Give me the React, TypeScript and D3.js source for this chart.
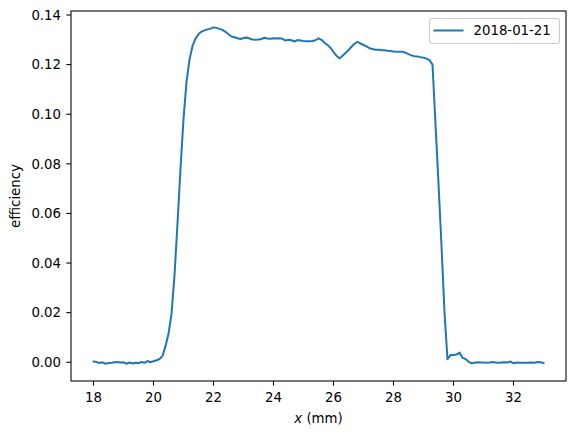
import React from "react";
import * as d3 from "d3";

const xValues = [
  18.0, 18.1, 18.2, 18.3, 18.4, 18.5, 18.6, 18.7, 18.8, 18.9,
  19.0, 19.1, 19.2, 19.3, 19.4, 19.5, 19.6, 19.7, 19.8, 19.9,
  20.0, 20.1, 20.2, 20.3, 20.4, 20.5, 20.6, 20.7, 20.8, 20.9,
  21.0, 21.1, 21.2, 21.3, 21.4, 21.5, 21.6, 21.7, 21.8, 21.9,
  22.0, 22.1, 22.2, 22.3, 22.4, 22.5, 22.6, 22.7, 22.8, 22.9,
  23.0, 23.1, 23.2, 23.3, 23.4, 23.5, 23.6, 23.7, 23.8, 23.9,
  24.0, 24.1, 24.2, 24.3, 24.4, 24.5, 24.6, 24.7, 24.8, 24.9,
  25.0, 25.1, 25.2, 25.3, 25.4, 25.5, 25.6, 25.7, 25.8, 25.9,
  26.0, 26.1, 26.2, 26.3, 26.4, 26.5, 26.6, 26.7, 26.8, 26.9,
  27.0, 27.1, 27.2, 27.3, 27.4, 27.5, 27.6, 27.7, 27.8, 27.9,
  28.0, 28.1, 28.2, 28.3, 28.4, 28.5, 28.6, 28.7, 28.8, 28.9,
  29.0, 29.1, 29.2, 29.3, 29.4, 29.5, 29.6, 29.7, 29.8, 29.9,
  30.0, 30.1, 30.2, 30.3, 30.4, 30.5, 30.6, 30.7, 30.8, 30.9,
  31.0, 31.1, 31.2, 31.3, 31.4, 31.5, 31.6, 31.7, 31.8, 31.9,
  32.0, 32.1, 32.2, 32.3, 32.4, 32.5, 32.6, 32.7, 32.8, 32.9,
  33.0,
];

const efficiency = [
  0.0003, 0.0001, -0.0003, 0.0, -0.0006, -0.0003, -0.0002, 0.0, 0.0001, -0.0001,
  0.0, -0.0006, -0.0001, -0.0005, -0.0002, -0.0003, 0.0001, -0.0002, 0.0005, 0.0,
  0.0004, 0.0008, 0.0013, 0.0025, 0.0065, 0.0115, 0.0195, 0.035, 0.056, 0.078,
  0.098, 0.113, 0.122, 0.1275, 0.1305, 0.1322, 0.1333, 0.1338, 0.1342, 0.1345,
  0.135, 0.1348, 0.1344, 0.134, 0.1332, 0.1322, 0.1313, 0.131, 0.1306, 0.1303,
  0.1307, 0.1309, 0.1305, 0.1301, 0.13, 0.1301, 0.1303, 0.1308, 0.1305, 0.1304,
  0.1306, 0.1305, 0.1306, 0.1304, 0.1297, 0.13, 0.1298, 0.1293, 0.1299, 0.1297,
  0.1295, 0.1294, 0.1294, 0.1295, 0.1298, 0.1306, 0.13, 0.1288, 0.1279, 0.1268,
  0.125, 0.1236, 0.1225, 0.1236, 0.1247, 0.1259, 0.1272, 0.1284, 0.1292, 0.1285,
  0.1279, 0.1273, 0.1266, 0.1263, 0.126, 0.126, 0.1258, 0.1258, 0.1256, 0.1255,
  0.1253, 0.1252, 0.1252, 0.1252, 0.1248, 0.1242, 0.1237, 0.1234, 0.1233, 0.123,
  0.1228, 0.1224, 0.1218, 0.12, 0.096, 0.072, 0.047, 0.02, 0.0012, 0.0029,
  0.0029, 0.0031, 0.0039, 0.0018, 0.0013, 0.0003, -0.0004, -0.0002, 0.0, -0.0001,
  -0.0001, -0.0002, -0.0001, 0.0001, -0.0001, -0.0002, -0.0001, 0.0, -0.0001, 0.0003,
  -0.0004, -0.0001, -0.0002, -0.0002, -0.0002, -0.0002, -0.0001, -0.0002, 0.0001, 0.0,
  -0.0003,
];

const xTicks = [18, 20, 22, 24, 26, 28, 30, 32];
const yTicks = [0.0, 0.02, 0.04, 0.06, 0.08, 0.1, 0.12, 0.14];
const seriesLabel = "2018-01-21";

export default function App() {
  const W = 576;
  const H = 436;
  const left = 71;
  const right = 566;
  const top = 11;
  const bottom = 381;
  const color = "#1f77b4";
  const font = "'DejaVu Sans', sans-serif";
  const fs = 13.3;

  const x = d3.scaleLinear().domain([17.25, 33.75]).range([left, right]);
  const y = d3.scaleLinear().domain([-0.00755, 0.1416]).range([bottom, top]);

  const pts: [number, number][] = xValues.map((v, i) => [v, efficiency[i]]);
  const line = d3
    .line<[number, number]>()
    .x((d) => x(d[0]))
    .y((d) => y(d[1]));

  const fmtY = d3.format(".2f");

  return (
    <svg width={W} height={H} style={{ display: "block", position: "absolute", left: 0, top: 0 }} fontFamily={font}>
      <rect x={0} y={0} width={W} height={H} fill="#ffffff" />
      <path d={line(pts) || ""} fill="none" stroke={color} strokeWidth={2} strokeLinejoin="round" strokeLinecap="square" />
      <rect x={left} y={top} width={right - left} height={bottom - top} fill="none" stroke="#000" strokeWidth={1.07} />
      {xTicks.map((t) => (
        <g key={"x" + t}>
          <line x1={x(t)} x2={x(t)} y1={bottom} y2={bottom + 4.67} stroke="#000" strokeWidth={1.07} />
          <text x={x(t)} y={402.3} textAnchor="middle" fontSize={fs} fill="#000">
            {t}
          </text>
        </g>
      ))}
      {yTicks.map((t) => (
        <g key={"y" + t}>
          <line x1={left - 4.67} x2={left} y1={y(t)} y2={y(t)} stroke="#000" strokeWidth={1.07} />
          <text x={61} y={y(t)} dy="0.36em" textAnchor="end" fontSize={fs} fill="#000">
            {fmtY(t)}
          </text>
        </g>
      ))}
      <text x={(left + right) / 2} y={423} textAnchor="middle" fontSize={fs} fill="#000">
        <tspan fontStyle="italic">x</tspan>
        <tspan> (mm)</tspan>
      </text>
      <text transform={`translate(20,${(top + bottom) / 2}) rotate(-90)`} textAnchor="middle" fontSize={fs} fill="#000">
        efficiency
      </text>
      <g>
        <rect x={429.5} y={18.5} width={130} height={25} rx={2.5} fill="#fff" fillOpacity={0.8} stroke="#cccccc" strokeWidth={1.07} />
        <line x1={433.5} x2={463.5} y1={30.5} y2={30.5} stroke={color} strokeWidth={2} />
        <text x={473.5} y={35.3} fontSize={fs} fill="#000">
          {seriesLabel}
        </text>
      </g>
    </svg>
  );
}
